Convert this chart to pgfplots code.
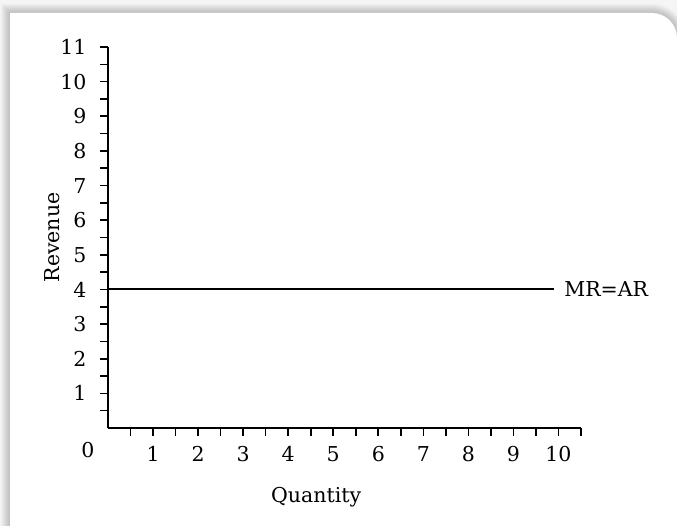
\documentclass[border=0pt]{standalone}
\usepackage{fontspec}
\setmainfont{DejaVu Serif}
\usepackage{pgfplots}
\pgfplotsset{compat=1.18}
\begin{document}
\begin{tikzpicture}[x=1pt,y=1pt]
\useasboundingbox (0,0) rectangle (677,526);
\fill[black!4] (0,0) rectangle (677,526);
\foreach \i in {1,...,9} {
  \fill[black, opacity=0.022] (10-\i,-30) -- (10-\i,513+\i) -- (652,513+\i) arc[start angle=90, end angle=0, radius=25+\i] -- (677+\i,-30) -- cycle;
}
\fill[white] (10,-30) -- (10,513) -- (652,513) arc[start angle=90, end angle=0, radius=25] -- (677,-30) -- cycle;
\begin{axis}[
  at={(108pt,98pt)}, anchor=south west,
  scale only axis, width=473pt, height=381pt,
  xmin=0, xmax=10.5, ymin=0, ymax=11,
  axis lines=left,
  axis line style={-, line width=1.6pt, black},
  xtick={0.5,1,...,10.5},
  xticklabels={,1,,2,,3,,4,,5,,6,,7,,8,,9,,10,},
  ytick={0.5,1,...,11},
  yticklabels={,1,,2,,3,,4,,5,,6,,7,,8,,9,,10,,11},
  tick align=outside,
  major tick length=8pt,
  every tick/.style={line width=1.6pt, black},
  font=\fontsize{20.5}{24}\selectfont,
  /pgf/number format/assume math mode=true,
  xticklabel style={yshift=-7pt},
  yticklabel style={xshift=-10pt},
  xlabel={Quantity}, ylabel={Revenue},
  xlabel style={at={(axis description cs:0.44,0)}, anchor=center, yshift=-69pt},
  ylabel style={at={(axis description cs:-0.1184,0.5)}, anchor=center},
  clip=false,
]
\addplot[black, line width=2pt] coordinates {(0,4) (9.9,4)} node[pos=1, anchor=west, xshift=6pt] {MR=AR};
\node at (axis cs:0,0) [xshift=-20pt, yshift=-22pt] {0};
\end{axis}
\end{tikzpicture}
\end{document}
